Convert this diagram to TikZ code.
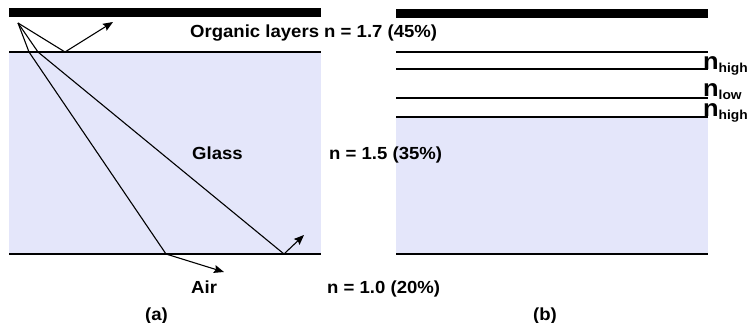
\documentclass[tikz,border=0pt]{standalone}
\usepackage{fontspec}
\setmainfont{Liberation Sans}[FakeStretch=1.06]
\usetikzlibrary{arrows.meta}
\definecolor{azulVidrio}{HTML}{E4E6FA}

\newcommand{\nsub}[1]{n\raisebox{-3pt}{\fontsize{13}{13}\selectfont #1}}

\begin{document}
\begin{tikzpicture}[x=1pt,y=-1pt,>={Stealth[length=10pt,width=8pt,inset=1.5pt]},
  rayo/.style={line width=1.1pt,line join=round},
  capa/.style={line width=2pt},
  txt/.style={anchor=base west,inner sep=0pt,font=\bfseries\fontsize{17.5}{17.5}\selectfont},
  indice/.style={anchor=base west,inner sep=0pt,font=\bfseries\fontsize{24}{24}\selectfont}]
  \useasboundingbox (0,0) rectangle (750,323);
  % (a) organic layers on glass
  \fill[azulVidrio] (9,53) rectangle (321,254);
  \fill (9,8) rectangle (321,17);
  \draw[capa] (9,52) -- (321,52);
  \draw[capa] (9,254) -- (321,254);
  \coordinate (fuente) at (18,23);
  \coordinate (r1) at (65,52);   \coordinate (r1f) at (113,22);
  \coordinate (r2a) at (29,52);  \coordinate (r2b) at (166,254);
  \coordinate (r2f) at (224,272);
  \coordinate (r3a) at (38,52);  \coordinate (r3b) at (284,254);
  \coordinate (r3f) at (304,235);
  \draw[rayo,->] (fuente) -- (r1) -- (r1f);
  \draw[rayo,->] (fuente) -- (r2a) -- (r2b) -- (r2f);
  \draw[rayo,->] (fuente) -- (r3a) -- (r3b) -- (r3f);
  % (b) with high/low/high stack
  \fill[azulVidrio] (396,117) rectangle (708,254);
  \fill (396,9) rectangle (708,18);
  \draw[capa] (396,52) -- (708,52);
  \foreach \y in {69,98,117} \draw[capa] (396,\y) -- (708,\y);
  \draw[capa] (396,254) -- (708,254);
  \node[indice] (nalta) at (703,70) {\nsub{high}};
  \node[indice] (nbaja) at (703,97) {\nsub{low}};
  \node[indice] (nalta2) at (703,117) {\nsub{high}};
  % labels
  \node[txt] (organico) at (190,38) {Organic layers n = 1.7 (45\%)};
  \node[txt] (vidrio) at (192,160) {Glass};
  \node[txt] (nvidrio) at (329,160) {n = 1.5 (35\%)};
  \node[txt] (aire) at (191,294) {Air};
  \node[txt] (naire) at (327,294) {n = 1.0 (20\%)};
  \node[txt] (pa) at (145,320) {(a)};
  \node[txt] (pb) at (533,320) {(b)};
\end{tikzpicture}
\end{document}
